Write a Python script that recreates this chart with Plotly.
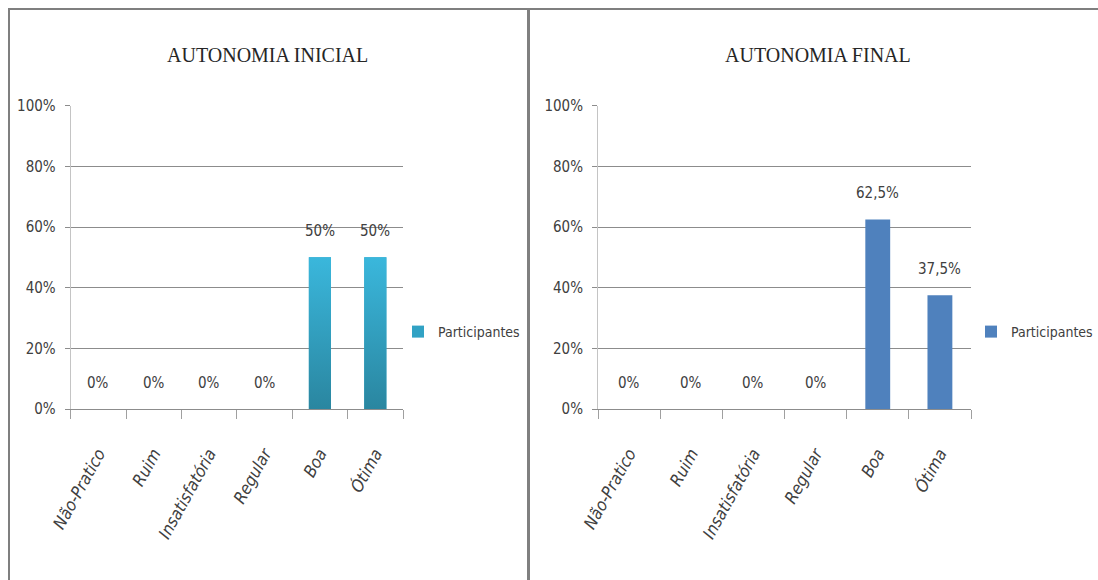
import plotly.graph_objects as go

# Dados das avaliações de autonomia (percentual de participantes)
categorias = ["Não-Pratico", "Ruim", "Insatisfatória", "Regular", "Boa", "Ótima"]
inicial = [0, 0, 0, 0, 50, 50]
final = [0, 0, 0, 0, 62.5, 37.5]
serie = "Participantes"
titulos = ["AUTONOMIA INICIAL", "AUTONOMIA FINAL"]

W, H = 1098, 580
NARROW = "Liberation Sans Narrow, DejaVu Sans Condensed, Open Sans, sans-serif"
SERIF = "Liberation Serif, DejaVu Serif, serif"
TXT = "#404040"
GRID = "#8c8c8c"


def px_x(px):
    return px / W


def px_y(py):
    return 1 - py / H


def rotulo(v):
    return f"{v:g}".replace(".", ",") + "%"


x_idx = list(range(len(categorias)))
largura = 0.4

fig = go.Figure()

# Painel esquerdo: barras com degradê vertical
fig.add_trace(go.Bar(
    x=x_idx, y=inicial, width=largura, name=serie,
    marker=dict(color="#31a2c4", line=dict(width=0)),
    xaxis="x", yaxis="y", legend="legend",
))
poly_x, poly_y = [], []
for i, v in zip(x_idx, inicial):
    if v <= 0:
        continue
    poly_x += [i - largura / 2, i + largura / 2, i + largura / 2, i - largura / 2, i - largura / 2, None]
    poly_y += [0, 0, v, v, 0, None]
fig.add_trace(go.Scatter(
    x=poly_x, y=poly_y, mode="lines", fill="toself", line=dict(width=0),
    fillgradient=dict(type="vertical",
                      colorscale=[[0, "#2a86a0"], [1, "#3ab7dc"]]),
    hoverinfo="skip", showlegend=False, xaxis="x", yaxis="y",
))

# Painel direito: barras sólidas
fig.add_trace(go.Bar(
    x=x_idx, y=final, width=largura, name=serie,
    marker=dict(color="#4f81bd", line=dict(width=0)),
    xaxis="x2", yaxis="y2", legend="legend2",
))

y_dom = [px_y(409), px_y(105.7)]
eixo_y = dict(
    range=[0, 100], tickmode="linear", tick0=0, dtick=20, ticksuffix="%",
    showgrid=True, gridcolor=GRID, gridwidth=1,
    showline=True, linecolor="#c4c4c4", linewidth=1,
    ticks="outside", ticklen=5, tickcolor=GRID,
    zeroline=False, ticklabelstandoff=6, automargin=False,
    tickfont=dict(family=NARROW, size=15, color=TXT),
    domain=y_dom, fixedrange=True,
)
eixo_x = dict(
    range=[-0.5, len(categorias) - 0.5], tickmode="array",
    tickvals=x_idx, ticktext=categorias,
    tickangle=-61, ticks="", showgrid=False, zeroline=False,
    showline=True, linecolor=GRID, linewidth=1, automargin=False,
    minor=dict(tickvals=[i - 0.5 for i in range(len(categorias) + 1)],
               ticks="outside", ticklen=9, tickcolor="#a0a0a0", showgrid=False),
    tickfont=dict(family=NARROW, size=17, color=TXT, style="italic"),
    ticklabelstandoff=27, fixedrange=True,
)

leg = dict(xanchor="left", yanchor="middle",
           font=dict(family=NARROW, size=14, color=TXT),
           bgcolor="rgba(0,0,0,0)", itemwidth=30)

fig.update_layout(
    width=W, height=H,
    margin=dict(l=0, r=0, t=0, b=0, pad=0, autoexpand=False),
    paper_bgcolor="white", plot_bgcolor="white",
    xaxis=dict(eixo_x, domain=[px_x(70.7), px_x(403)], anchor="y"),
    yaxis=dict(eixo_y, anchor="x"),
    xaxis2=dict(eixo_x, domain=[px_x(598), px_x(971)], anchor="y2"),
    yaxis2=dict(eixo_y, anchor="x2"),
    legend=dict(leg, x=px_x(398), y=px_y(332)),
    legend2=dict(leg, x=px_x(971), y=px_y(332)),
    showlegend=True,
)

# Rótulos de valor acima das barras
for eixo, valores in (("", inicial), ("2", final)):
    for i, v in zip(x_idx, valores):
        fig.add_annotation(
            x=i, y=v, xref="x" + eixo, yref="y" + eixo, text=rotulo(v),
            showarrow=False, yanchor="bottom", yshift=15,
            font=dict(family=NARROW, size=15, color=TXT),
        )

# Títulos dos gráficos
for cx, titulo in zip((267, 818), titulos):
    fig.add_annotation(
        x=px_x(cx), y=px_y(55), xref="paper", yref="paper", text=titulo,
        showarrow=False, xanchor="center", yanchor="middle",
        font=dict(family=SERIF, size=20, color="#262626"),
    )

# Molduras dos painéis
borda = dict(color="#7f7f7f", width=2)
fig.add_shape(type="line", xref="paper", yref="paper",
              x0=px_x(8), x1=1, y0=px_y(9), y1=px_y(9), line=borda)
fig.add_shape(type="line", xref="paper", yref="paper",
              x0=px_x(9), x1=px_x(9), y0=0, y1=px_y(8), line=borda)
fig.add_shape(type="line", xref="paper", yref="paper",
              x0=px_x(528.5), x1=px_x(528.5), y0=0, y1=px_y(8),
              line=dict(color="#808080", width=3))

fig.write_html("out.html")
